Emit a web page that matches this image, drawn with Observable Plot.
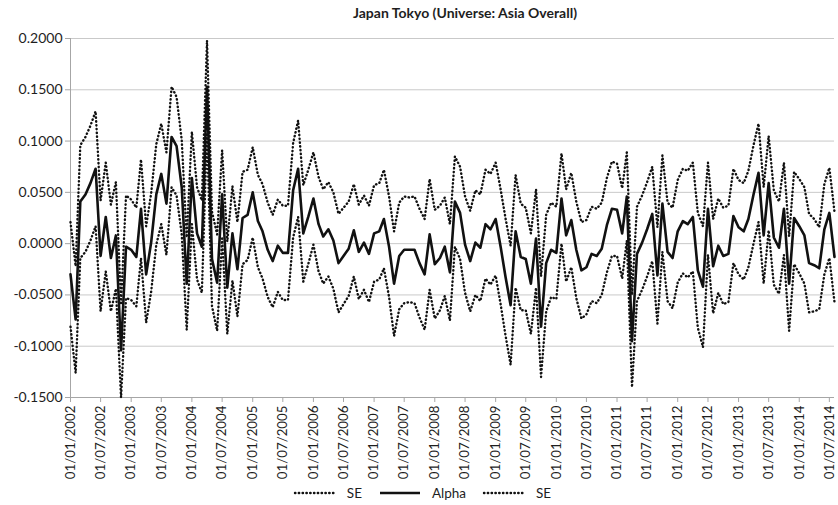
<!DOCTYPE html>
<html>
<head>
<meta charset="utf-8">
<script src="https://cdn.jsdelivr.net/npm/d3@7"></script>
<script src="https://cdn.jsdelivr.net/npm/@observablehq/plot@0.6"></script>
<style>
  html, body { margin: 0; padding: 0; background: #fff; }
  #wrap { width: 838px; height: 505px; font-family: Lato, "Open Sans", sans-serif; color: #1e1e1e; }
  #title { height: 26px; line-height: 25px; text-align: center; font-weight: bold; font-size: 14px; padding-left: 92px; box-sizing: border-box; }
  #legend { display: flex; justify-content: center; align-items: center; font-size: 13.5px; height: 24px; padding-left: 6px; }
  #legend .item { display: flex; align-items: center; gap: 10px; }
  #legend svg { display: block; }
  #chart .ylab text { font-size: 14px; }
</style>
</head>
<body>
<div id="wrap">
  <div id="title"></div>
  <div id="chart"></div>
  <div id="legend"></div>
</div>
<script>
// Monthly alpha estimates for Japan Tokyo, January 2002 onwards
const startDate = Date.UTC(2002, 0, 1);
const alpha = [
  -0.030, -0.074, 0.041, 0.048, 0.059, 0.073, -0.012, 0.026, -0.014, 0.008, -0.104, -0.003,
  -0.006, -0.013, 0.034, -0.030, 0.001, 0.048, 0.068, 0.039, 0.104, 0.095, 0.055, -0.039,
  0.064, 0.010, -0.003, 0.153, -0.015, -0.038, 0.048, -0.043, 0.010, -0.025, 0.025, 0.028,
  0.050, 0.022, 0.012, -0.006, -0.017, -0.002, -0.009, -0.009, 0.052, 0.073, 0.010, 0.026,
  0.044, 0.019, 0.007, 0.014, 0.003, -0.019, -0.012, -0.005, 0.013, -0.008, 0.001, -0.010,
  0.010, 0.012, 0.024, -0.003, -0.039, -0.012, -0.006, -0.006, -0.006, -0.019, -0.030, 0.009,
  -0.020, -0.014, -0.003, -0.028, 0.041, 0.030, -0.001, -0.017, 0.001, -0.004, 0.019, 0.014,
  0.024, -0.004, -0.032, -0.060, 0.012, -0.013, -0.015, -0.039, 0.005, -0.081, -0.019, -0.006,
  -0.009, 0.044, 0.008, 0.023, -0.006, -0.026, -0.023, -0.010, -0.012, -0.005, 0.018, 0.034,
  0.033, 0.010, 0.046, -0.095, -0.010, 0.001, 0.014, 0.029, -0.031, 0.039, -0.008, -0.014,
  0.012, 0.022, 0.019, 0.026, -0.026, -0.042, 0.034, -0.022, -0.002, -0.012, -0.010, 0.027,
  0.016, 0.012, 0.024, 0.048, 0.069, 0.008, 0.059, 0.006, -0.004, 0.034, -0.039, 0.025,
  0.017, 0.008, -0.019, -0.021, -0.024, 0.014, 0.030, -0.013
];
// Standard error of each monthly alpha
const se = [
  0.051, 0.052, 0.055, 0.056, 0.056, 0.056, 0.054, 0.053, 0.052, 0.052, 0.046, 0.050,
  0.049, 0.048, 0.048, 0.047, 0.048, 0.049, 0.049, 0.050, 0.049, 0.048, 0.046, 0.045,
  0.045, 0.045, 0.045, 0.045, 0.046, 0.047, 0.043, 0.045, 0.046, 0.046, 0.045, 0.044,
  0.044, 0.045, 0.046, 0.046, 0.045, 0.045, 0.046, 0.046, 0.046, 0.047, 0.047, 0.046,
  0.045, 0.046, 0.046, 0.046, 0.047, 0.048, 0.047, 0.046, 0.045, 0.046, 0.046, 0.047,
  0.047, 0.047, 0.048, 0.049, 0.051, 0.052, 0.052, 0.051, 0.052, 0.053, 0.054, 0.054,
  0.053, 0.051, 0.048, 0.047, 0.044, 0.045, 0.047, 0.049, 0.051, 0.052, 0.053, 0.054,
  0.055, 0.056, 0.057, 0.058, 0.055, 0.052, 0.050, 0.049, 0.048, 0.049, 0.047, 0.046,
  0.045, 0.044, 0.045, 0.046, 0.047, 0.047, 0.046, 0.046, 0.046, 0.045, 0.046, 0.046,
  0.045, 0.044, 0.043, 0.045, 0.046, 0.046, 0.046, 0.046, 0.047, 0.047, 0.048, 0.049,
  0.050, 0.051, 0.052, 0.053, 0.056, 0.059, 0.045, 0.046, 0.046, 0.047, 0.047, 0.046,
  0.046, 0.047, 0.047, 0.048, 0.048, 0.047, 0.046, 0.046, 0.045, 0.045, 0.046, 0.045,
  0.046, 0.047, 0.048, 0.045, 0.040, 0.044, 0.044, 0.044
];
const yTicks = [-0.15, -0.10, -0.05, 0, 0.05, 0.10, 0.15, 0.20];
const titleText = "Japan Tokyo (Universe: Asia Overall)";
const legendLabels = ["SE", "Alpha", "SE"];

// One row per month: alpha with its upper and lower SE band
const rows = alpha.map((a, i) => ({
  date: new Date(Date.UTC(2002, i, 1)),
  alpha: a,
  upper: a + se[i],
  lower: a - se[i]
}));
const endDate = rows[rows.length - 1].date;
const xTicks = d3.utcMonth.every(6).range(new Date(startDate), new Date(+endDate + 1));
const fmtDate = d3.utcFormat("%d/%m/%Y");

document.getElementById("title").textContent = titleText;

const axisColor = "#a6a6a6";
const lineColor = "#111";
const dotted = { stroke: lineColor, strokeWidth: 2.4, strokeDasharray: "0.4,3.4", strokeLinecap: "round" };
const chart = Plot.plot({
  width: 838,
  height: 455,
  marginTop: 12,
  marginBottom: 84,
  marginLeft: 70,
  marginRight: 4,
  style: { fontFamily: "Lato, 'Open Sans', sans-serif", fontSize: "13.3px", color: "#1e1e1e", background: "#fff" },
  x: { type: "utc", domain: [new Date(startDate), endDate] },
  y: { domain: [-0.15, 0.2] },
  marks: [
    Plot.gridY(yTicks, { stroke: "#c9c9c9", strokeOpacity: 1 }),
    Plot.ruleX([new Date(startDate)], { stroke: axisColor }),
    Plot.ruleY([-0.15], { stroke: axisColor }),
    Plot.axisY({ ticks: yTicks, tickFormat: d => d.toFixed(4), tickSize: 5, tickPadding: 3, stroke: axisColor, label: null, fill: "#1e1e1e", className: "ylab" }),
    Plot.axisX({ ticks: xTicks, tickFormat: fmtDate, tickRotate: -90, tickSize: 5, tickPadding: 3, stroke: axisColor, label: null, fill: "#1e1e1e" }),
    Plot.lineY(rows, { x: "date", y: "upper", ...dotted }),
    Plot.lineY(rows, { x: "date", y: "lower", ...dotted }),
    Plot.lineY(rows, { x: "date", y: "alpha", stroke: lineColor, strokeWidth: 2.6 })
  ]
});
document.getElementById("chart").appendChild(chart);

// Legend: dotted SE, solid Alpha, dotted SE
const legend = document.getElementById("legend");
const styles = [
  { dash: "0.4,3.4", w: 2.4, cap: "round" },
  { dash: null, w: 2.6, cap: "butt" },
  { dash: "0.4,3.4", w: 2.4, cap: "round" }
];
legendLabels.forEach((lab, i) => {
  const item = document.createElement("div");
  item.className = "item";
  const s = styles[i];
  item.innerHTML = `<svg width="44" height="10"><line x1="2" y1="5" x2="42" y2="5" stroke="${lineColor}" stroke-width="${s.w}" stroke-linecap="${s.cap}" ${s.dash ? `stroke-dasharray="${s.dash}"` : ""}/></svg><span>${lab}</span>`;
  item.style.marginRight = i < legendLabels.length - 1 ? "16px" : "0";
  legend.appendChild(item);
});
</script>
</body>
</html>
